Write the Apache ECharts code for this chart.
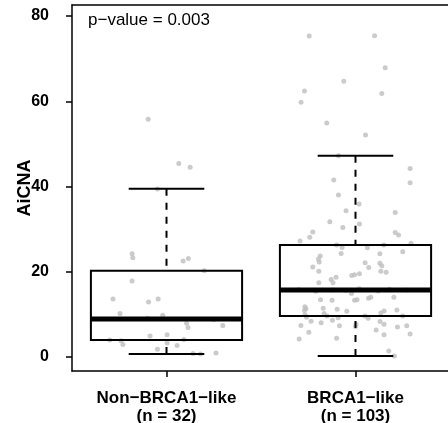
<!DOCTYPE html>
<html>
<head>
<meta charset="utf-8">
<script src="https://cdn.jsdelivr.net/npm/echarts@6/dist/echarts.min.js"></script>
<style>html,body{margin:0;padding:0;background:#fff;overflow:hidden}#c{width:448px;height:423px}</style>
</head>
<body>
<div id="c"></div>
<script>
// ---- data ----
const groupNames = ['Non\u2212BRCA1\u2212like', 'BRCA1\u2212like'];
const groupN = [32, 103];
const yTicks = [0, 20, 40, 60, 80];
const yTitle = 'AiCNA';
const pValueText = 'p\u2212value = 0.003';
// box stats: [lower whisker, Q1, median, Q3, upper whisker]
const nonStats = [0.7, 4.0, 8.9, 20.2, 39.5];
const brcaStats = [0.2, 9.6, 15.7, 26.3, 47.2];
// jittered points: values and horizontal jitter offsets (category units)
const nonValues = [55.8, 45.4, 44.5, 39.4, 24.2, 23.3, 22.5, 23.1, 17.8, 13.6, 12.9, 13.6, 10.2, 9.8, 7.9, 6.9, 7.4, 3.8, 2.9, 4.9, 5.2, 3.3, 2.7, 4.1, 1.8, 0.8, 0.9, 0.7, 4.0, 8.7, 9.1, 20.2];
const nonJitter = [-0.097, 0.065, 0.125, -0.048, -0.182, -0.178, 0.088, 0.116, -0.182, -0.283, -0.095, -0.044, -0.246, -0.02, 0.106, 0.114, 0.298, -0.24, -0.231, -0.087, 0.003, 0.003, 0.056, 0.092, -0.048, 0.141, 0.262, 0.18, -0.3, 0.25, -0.1, 0.2];
const brcaValues = [75.3, 75.4, 67.9, 64.7, 62.4, 61.8, 59.8, 54.9, 52.1, 47.2, 44.2, 41.5, 40.9, 38.0, 35.9, 34.3, 33.9, 31.7, 31.2, 30.4, 29.3, 28.1, 29.2, 28.6, 27.2, 26.7, 25.7, 25.6, 24.3, 24.2, 24.7, 23.7, 23.0, 22.3, 21.1, 20.1, 22.1, 21.0, 22.0, 21.4, 20.1, 19.9, 19.1, 19.3, 19.5, 18.2, 18.7, 17.4, 17.4, 14.9, 13.4, 13.3, 13.3, 13.4, 13.8, 14.0, 14.0, 11.8, 11.3, 10.9, 11.4, 11.2, 10.7, 10.2, 9.9, 9.3, 10.3, 10.8, 11.0, 8.4, 8.0, 8.6, 9.2, 7.4, 7.3, 7.1, 7.7, 9.1, 8.3, 7.7, 6.3, 5.2, 7.0, 7.3, 5.4, 5.8, 4.2, 4.4, 1.4, 0.2, 15.4, 15.5, 15.6, 15.7, 15.8, 15.9, 16.0, 15.7, 9.6, 9.6, 9.6, 26.3, 26.3];
const brcaJitter = [-0.245, 0.101, 0.157, -0.062, -0.27, 0.139, -0.288, -0.152, 0.053, -0.09, 0.289, -0.115, 0.289, -0.09, 0.019, -0.05, 0.21, -0.136, 0.021, -0.067, -0.226, -0.242, 0.21, 0.228, -0.293, 0.294, -0.071, 0.063, -0.076, 0.129, 0.25, -0.187, -0.196, -0.192, -0.226, -0.194, 0.051, 0.07, 0.129, 0.139, 0.134, 0.162, -0.02, -0.005, 0.021, -0.129, -0.103, -0.119, -0.194, -0.021, -0.185, -0.124, -0.005, 0.008, 0.069, 0.081, 0.203, -0.268, -0.262, -0.27, -0.171, -0.097, -0.046, -0.166, -0.267, -0.259, 0.134, 0.151, 0.219, -0.235, -0.182, -0.122, -0.092, -0.289, -0.085, 0, 0.003, 0.067, 0.13, 0.151, 0.109, 0.151, 0.222, 0.271, 0.289, -0.247, -0.298, -0.1, 0.176, 0.206, -0.21, 0.12, -0.05, 0.27, -0.3, 0.18, 0.02, -0.12, -0.15, 0.05, 0.25, -0.1, 0.15];

// ---- build ----
const FONT = 'Liberation Sans, Arial, Helvetica, sans-serif';
const points = [];
nonValues.forEach((v, i) => points.push([1 + nonJitter[i], v]));
brcaValues.forEach((v, i) => points.push([2 + brcaJitter[i], v]));
const boxData = [[1].concat(nonStats), [2].concat(brcaStats)];

function renderBox(params, api) {
  const x = api.value(0);
  const lw = api.value(1), q1 = api.value(2), med = api.value(3), q3 = api.value(4), uw = api.value(5);
  const P = (a, b) => api.coord([a, b]);
  const hb = 0.4, hc = 0.2;
  const ln = (p1, p2, w, dash) => ({
    type: 'line',
    shape: { x1: p1[0], y1: p1[1], x2: p2[0], y2: p2[1] },
    style: { stroke: '#000', lineWidth: w, lineDash: dash || null, fill: null }
  });
  const tl = P(x - hb, q3), br = P(x + hb, q1);
  return {
    type: 'group',
    children: [
      ln(P(x, uw), P(x, q3), 2, [7, 7]),
      ln(P(x, lw), P(x, q1), 2, [7, 7]),
      ln(P(x - hc, uw), P(x + hc, uw), 2),
      ln(P(x - hc, lw), P(x + hc, lw), 2),
      { type: 'rect', shape: { x: tl[0], y: tl[1], width: br[0] - tl[0], height: br[1] - tl[1] },
        style: { stroke: '#000', lineWidth: 2, fill: null } },
      ln(P(x - hb, med), P(x + hb, med), 5)
    ]
  };
}

const lineSty = { color: '#000', width: 1.5 };
const chart = echarts.init(document.getElementById('c'), null, { renderer: 'canvas' });
chart.setOption({
  animation: false,
  backgroundColor: '#fff',
  grid: { left: 72, top: 5, width: 378, bottom: 52, show: false, outerBoundsMode: 'none', containLabel: false },
  xAxis: [{
    type: 'value', min: 0.5, max: 2.5, position: 'bottom',
    axisLine: { show: true, onZero: false, lineStyle: lineSty },
    splitLine: { show: false },
    axisTick: { show: true, length: 6, lineStyle: lineSty, customValues: [1, 2] },
    axisLabel: {
      customValues: [1, 2], margin: 18,
      formatter: v => { const i = Math.round(v) - 1; return groupNames[i] + '\n(n = ' + groupN[i] + ')'; },
      color: '#000', fontWeight: 'bold', fontSize: 17, lineHeight: 18, fontFamily: FONT
    }
  }, {
    type: 'value', min: 0.5, max: 2.5, position: 'top',
    axisLine: { show: true, onZero: false, lineStyle: lineSty },
    splitLine: { show: false }, axisTick: { show: false }, axisLabel: { show: false }
  }],
  yAxis: {
    type: 'value', min: -3.3, max: 82.6,
    name: yTitle, nameLocation: 'middle', nameGap: 38, nameMoveOverlap: false,
    nameTextStyle: { color: '#000', fontWeight: 'bold', fontSize: 18, fontFamily: FONT },
    axisLine: { show: true, onZero: false, lineStyle: lineSty },
    splitLine: { show: false },
    axisTick: { show: true, length: 6, lineStyle: lineSty, customValues: yTicks },
    axisLabel: { customValues: yTicks, margin: 23, color: '#000', fontWeight: 'bold', fontSize: 16, fontFamily: FONT }
  },
  graphic: [{
    type: 'text', left: 88, top: 12,
    style: { text: pValueText, fill: '#000', font: '17px ' + FONT }
  }],
  series: [
    { type: 'scatter', data: points, symbol: 'circle', symbolSize: 5, itemStyle: { color: '#bebebe' }, z: 2, silent: true },
    { type: 'custom', data: boxData, renderItem: renderBox, encode: { x: 0, y: [1, 2, 3, 4, 5] }, z: 3, silent: true }
  ]
});
</script>
</body>
</html>
